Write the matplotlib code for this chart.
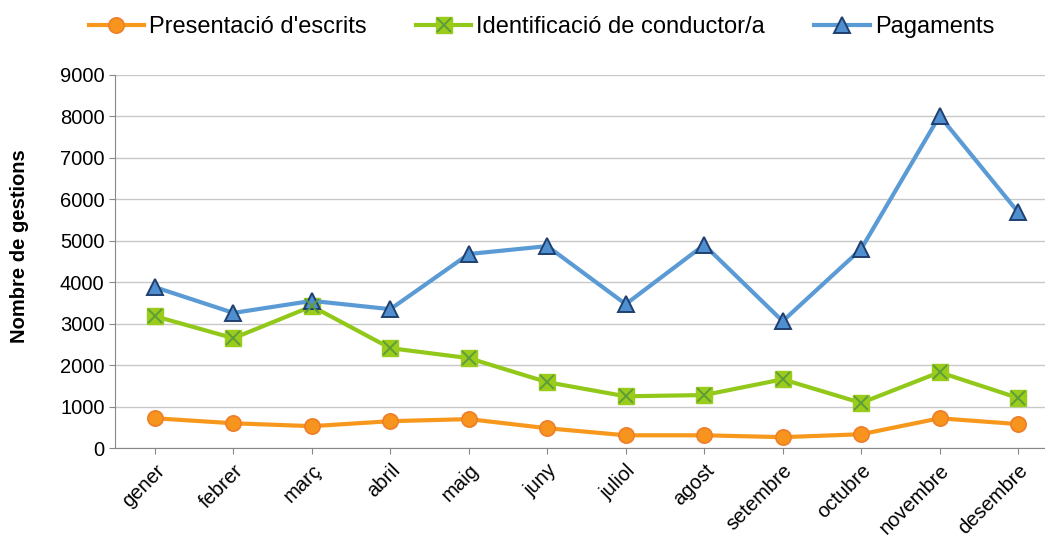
import matplotlib
matplotlib.use("Agg")
import matplotlib.pyplot as plt

plt.rcParams['font.family'] = ['Liberation Sans', 'DejaVu Sans']

mesos = ['gener', 'febrer', 'març', 'abril', 'maig', 'juny', 'juliol',
         'agost', 'setembre', 'octubre', 'novembre', 'desembre']
escrits = [720, 600, 530, 650, 700, 480, 310, 310, 265, 335, 720, 580]
identificacio = [3180, 2650, 3420, 2410, 2170, 1590, 1250, 1280, 1660, 1090, 1830, 1210]
pagaments = [3880, 3260, 3550, 3350, 4680, 4870, 3470, 4900, 3060, 4800, 8010, 5690]

fig = plt.figure(figsize=(10.45, 5.38), dpi=100)
ax = fig.add_axes([0.110, 0.167, 0.901, 0.694])

x = range(len(mesos))

l1, = ax.plot(x, escrits, color='#F7981D', lw=3, marker='o', ms=11,
              mfc='#F7941D', mec='#EE7E2A', mew=1.2, zorder=3)
l2a, = ax.plot(x, identificacio, color='#92C81A', lw=3, marker='s', ms=11,
               mfc='#9BCB1B', mec='#9BCB1B', zorder=3)
l2b, = ax.plot(x, identificacio, lw=0, marker='x', ms=10, mec='#5E9E3A',
               mew=1.4, zorder=4)
l3, = ax.plot(x, pagaments, color='#5B9BD5', lw=3, marker='^', ms=12,
              mfc='#4F8FD0', mec='#1F3F6F', mew=1.4, zorder=3)

ax.set_xlim(-0.51, 11.49)
ax.set_ylim(0, 9000)
ax.set_yticks(range(0, 9001, 1000))
ax.set_xticks(list(x))
ax.set_xticklabels(mesos, rotation=45, ha='right', rotation_mode='anchor')
ax.tick_params(axis='both', labelsize=14.5, color='#888888', length=4)
ax.tick_params(axis='x', pad=5)

ax.grid(axis='y', color='#C8C8C8', lw=1)
ax.set_axisbelow(True)
for s in ['top', 'right']:
    ax.spines[s].set_visible(False)
for s in ['left', 'bottom']:
    ax.spines[s].set_color('#888888')

ax.set_ylabel('Nombre de gestions', fontsize=14.5, fontweight='bold')
ax.yaxis.set_label_coords(-0.091, 0.54)

fig.legend([l1, (l2a, l2b), l3],
           ["Presentació d'escrits", 'Identificació de conductor/a', 'Pagaments'],
           loc='upper center', bbox_to_anchor=(0.518, 1.01), ncol=3, frameon=False,
           fontsize=17, handlelength=2.35, columnspacing=2.1, handletextpad=0.2)

fig.savefig('out.png', dpi=100)
